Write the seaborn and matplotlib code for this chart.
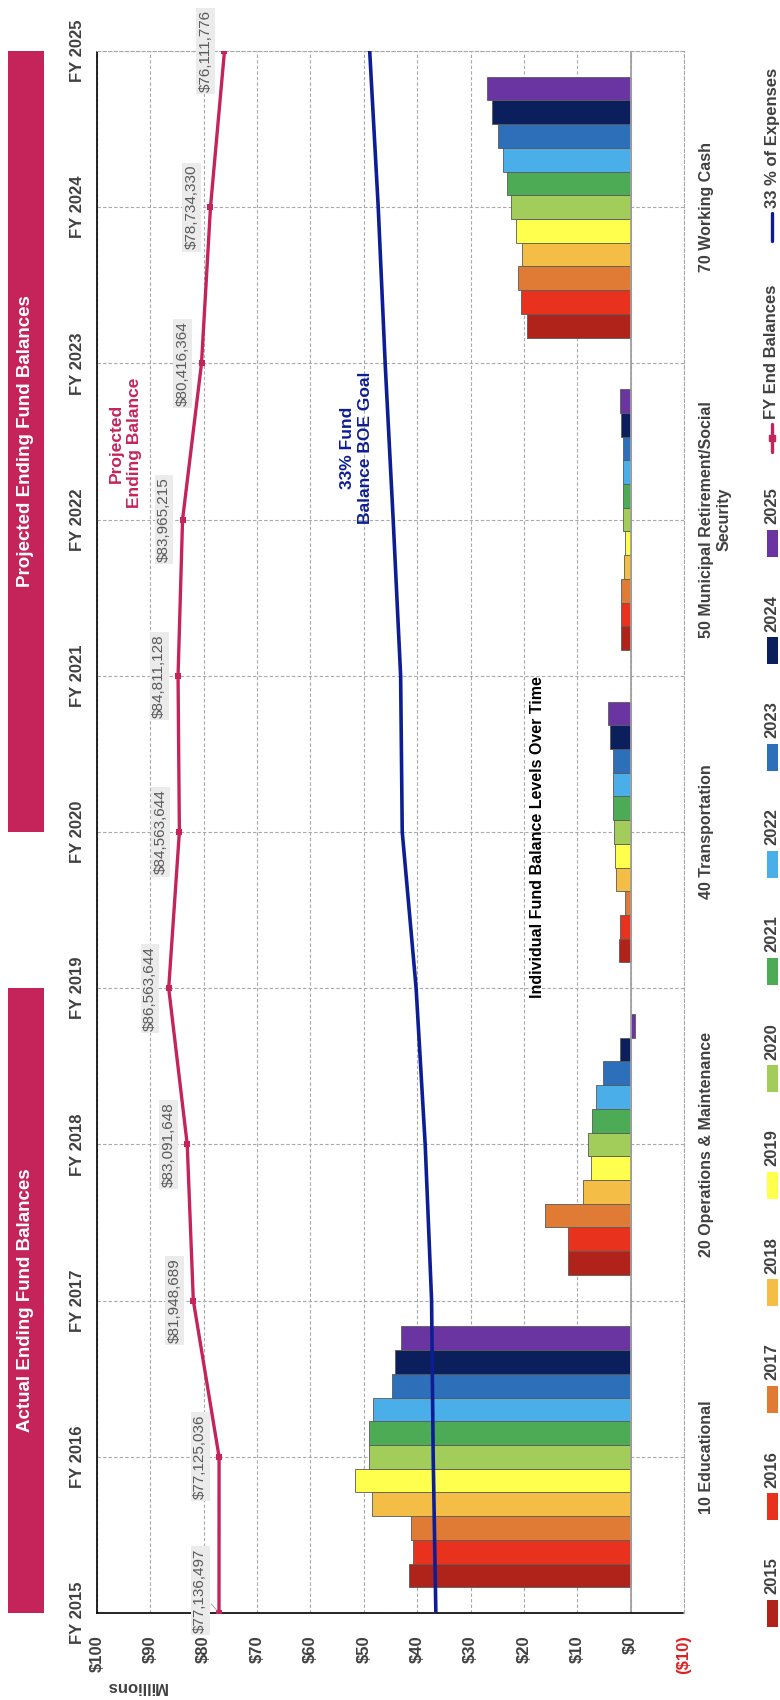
import numpy as np
import pandas as pd
import seaborn as sns
import matplotlib.pyplot as plt
from matplotlib import transforms
from matplotlib.patches import Rectangle
from matplotlib.lines import Line2D

# values in millions of dollars, years FY2015..FY2025
years = list(range(2015, 2026))
year_names = [str(y) for y in years]
fy_labels = ['FY %d' % y for y in years]
funds = ['10 Educational', '20 Operations & Maintenance', '40 Transportation',
         '50 Municipal Retirement/Social\nSecurity', '70 Working Cash']

educational = [41.5, 40.7, 41.1, 48.5, 51.7, 49.0, 49.0, 48.2, 44.8, 44.2, 43.0]
ops_maint = [11.8, 11.8, 16.0, 9.0, 7.5, 7.9, 7.2, 6.4, 5.1, 2.0, -0.9]
transportation = [2.1, 1.9, 1.0, 2.8, 3.0, 3.1, 3.3, 3.3, 3.3, 3.9, 4.2]
imrf = [1.8, 1.8, 1.8, 1.2, 1.1, 1.5, 1.4, 1.4, 1.4, 1.8, 2.0]
working_cash = [19.5, 20.6, 21.2, 20.4, 21.5, 22.4, 23.1, 24.0, 24.8, 26.0, 27.0]

fy_end_balances = [77136497, 77125036, 81948689, 83091648, 86563644, 84563644,
                   84811128, 83965215, 80416364, 78734330, 76111776]
goal_33 = [36.5, 37.0, 37.3, 38.5, 40.2, 42.8, 43.1, 44.5, 46.0, 47.3, 48.9]

value_ticks = [100, 90, 80, 70, 60, 50, 40, 30, 20, 10, 0, -10]
value_labels = ['$100', '$90', '$80', '$70', '$60', '$50', '$40', '$30', '$20', '$10', '$0', '($10)']

bar_colors = ['#B0231A', '#E8321E', '#E07B35', '#F4BD45', '#FFFF4D', '#A2CD5A',
              '#4DAA55', '#4AAEE8', '#2E6FBA', '#0A1F5C', '#6A35A0']
crimson = '#C4245A'
navy = '#0D1E94'
gray_txt = '#404040'

sns.set_style('white')
plt.rcParams['font.family'] = ['Liberation Sans', 'DejaVu Sans']

W, H = 780, 1700
fig = plt.figure(figsize=(W / 100, H / 100), dpi=100)
ax = fig.add_axes([97 / W, 1 - 1613 / H, (684 - 97) / W, (1613 - 51) / H])

df = pd.DataFrame({
    'fund': np.repeat(funds, len(years)),
    'year': np.tile(year_names, len(funds)),
    'value': np.concatenate([educational, ops_maint, transportation, imrf, working_cash]),
})

sns.barplot(data=df, x='value', y='fund', hue='year', order=funds, hue_order=year_names,
            palette=bar_colors, saturation=1, orient='h', width=0.835, dodge=True,
            errorbar=None, edgecolor='#5a5a5a', linewidth=0.6, legend=False, ax=ax)

ax.set_xlim(100, -10)
ax.set_ylim(-0.5, 4.5)
ax.set_xlabel('')
ax.set_ylabel('')
ax.set_xticks(value_ticks)
ax.set_xticklabels(value_labels, rotation=90, fontsize=12, fontweight='bold', color=gray_txt)
ax.get_xticklabels()[-1].set_color('#E02020')
ax.tick_params(axis='x', length=0, pad=16)

# year grid lines sit behind the bars
ax.set_yticks(np.arange(-0.5, 4.51, 0.5), minor=True)
grid_kw = dict(color='#a8a8a8', linestyle=(0, (3, 2)), linewidth=0.8)
ax.grid(axis='x', **grid_kw)
ax.grid(axis='y', which='both', **grid_kw)
ax.set_axisbelow(True)
ax.axvline(0, color='#a0a0a0', lw=1.3, zorder=1)

for side in ['left', 'bottom']:
    ax.spines[side].set_color('black')
    ax.spines[side].set_linestyle((0, (1.5, 1)))
    ax.spines[side].set_linewidth(1.2)
for side in ['top', 'right']:
    ax.spines[side].set_color('#a8a8a8')
    ax.spines[side].set_linestyle((0, (3, 2)))
    ax.spines[side].set_linewidth(0.8)

ax2 = ax.twinx()
ax.yaxis.tick_right()
ax.set_yticks(range(len(funds)))
ax.set_yticklabels(funds, rotation=90, ha='left', va='center', multialignment='center',
                   fontsize=11.5, fontweight='bold', color=gray_txt)
ax.tick_params(axis='y', which='both', length=0, pad=11)

sns.lineplot(x=goal_33, y=years, orient='y', sort=False, estimator=None,
             color=navy, lw=2.6, ax=ax2)
fy_m = [v / 1e6 for v in fy_end_balances]
sns.lineplot(x=fy_m, y=years, orient='y', sort=False, estimator=None,
             color=crimson, lw=2.4, marker='s', markersize=5, markeredgewidth=0, ax=ax2)

ax2.set_xlim(100, -10)
ax2.set_ylim(2015, 2025)
ax2.set_xlabel('')
ax2.set_ylabel('')
ax2.yaxis.tick_left()
ax2.set_yticks(years)
ax2.set_yticklabels(fy_labels, rotation=90, ha='right', va='center',
                    fontsize=12, fontweight='bold', color=gray_txt)
ax2.tick_params(axis='y', length=0, pad=9)
for s in ax2.spines.values():
    s.set_visible(False)

for i, (v, yr) in enumerate(zip(fy_m, years)):
    first = i == 0
    ax2.annotate('${:,}'.format(fy_end_balances[i]), (v, yr),
                 xytext=(-13.5, 16 if first else 0), textcoords='offset points',
                 rotation=90, ha='center', va='center', fontsize=11, color='#595959',
                 bbox=dict(boxstyle='square,pad=0.15', fc='#EBEBEB', ec='none'),
                 arrowprops=dict(arrowstyle='-', color='#9a9a9a', lw=0.6) if first else None,
                 annotation_clip=False, zorder=5)

ax2.text(94.6, 2022.49, 'Projected\nEnding Balance', rotation=90, ha='center', va='center',
         multialignment='center', fontsize=12.5, fontweight='bold', color=crimson, linespacing=1.25)
ax2.text(51.4, 2022.46, '33% Fund\nBalance BOE Goal', rotation=90, ha='center', va='center',
         multialignment='center', fontsize=12.5, fontweight='bold', color=navy, linespacing=1.25)
ax2.text(17.4, 2019.97, 'Individual Fund Balance Levels Over Time', rotation=90,
         ha='center', va='center', fontsize=11.5, fontweight='bold', color='black')

# banners on the left
trans = transforms.blended_transform_factory(fig.transFigure, ax2.transData)
for y0, y1, label in [(2015, 2019, 'Actual Ending Fund Balances'),
                      (2020, 2025, 'Projected Ending Fund Balances')]:
    fig.add_artist(Rectangle((8 / W, y0), 36 / W, y1 - y0, transform=trans,
                             facecolor=crimson, edgecolor='none'))
    fig.text(26 / W, (y0 + y1) / 2, label, transform=trans, rotation=90, ha='center',
             va='center', color='white', fontweight='bold', fontsize=13.5)

fig.text(136 / W, 1 - 1687 / H, 'Millions', rotation=180, ha='center', va='center',
         fontsize=12, fontweight='bold', color=gray_txt)

# legend, laid out bottom to top
lx = 772 / W
cy = 1613
for name, col in zip(year_names, bar_colors):
    fig.add_artist(Rectangle((lx - 5.5 / W, 1 - (cy + 13.5) / H), 11 / W, 27 / H,
                             transform=fig.transFigure, facecolor=col, edgecolor='none'))
    fig.text(lx, 1 - (cy - 18.5) / H, name, rotation=90, ha='center', va='bottom',
             fontsize=12, fontweight='bold', color=gray_txt)
    cy -= 107
cy += 2
for name, col, mk in [('FY End Balances', crimson, 's'), ('33 % of Expenses', navy, None)]:
    fig.add_artist(Line2D([lx, lx], [1 - (cy + 14) / H, 1 - (cy - 14) / H],
                          transform=fig.transFigure, color=col, lw=2.4))
    if mk:
        fig.add_artist(Line2D([lx], [1 - cy / H], transform=fig.transFigure,
                              color=col, marker=mk, markersize=5, lw=0))
    fig.text(lx, 1 - (cy - 19) / H, name, rotation=90, ha='center', va='bottom',
             fontsize=12, fontweight='bold', color=gray_txt)
    cy -= 211

fig.savefig('out.png', dpi=100)
